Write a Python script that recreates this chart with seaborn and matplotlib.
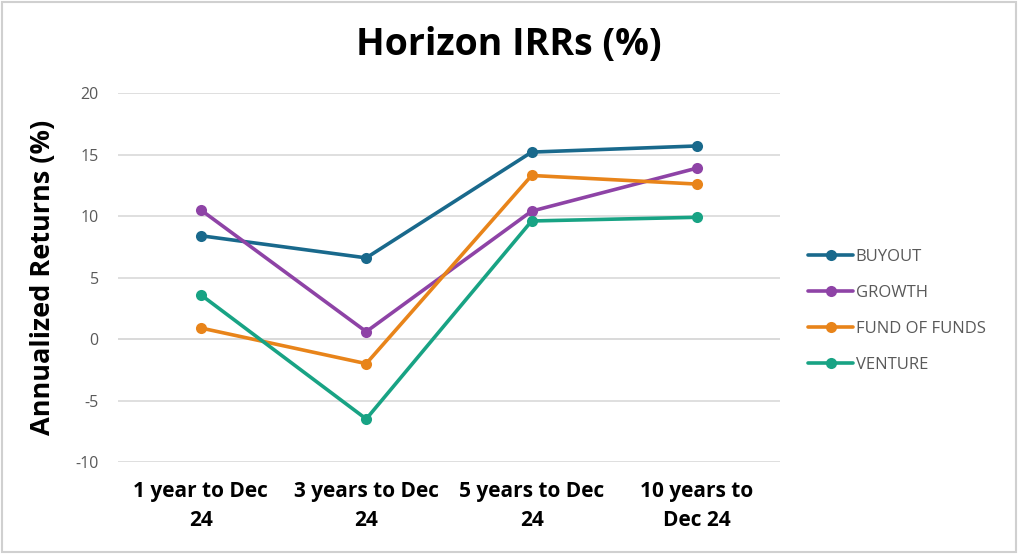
import pandas as pd
import seaborn as sns
import matplotlib.pyplot as plt
from matplotlib.patches import Rectangle

periods = ['1 year to Dec\n24', '3 years to Dec\n24', '5 years to Dec\n24', '10 years to\nDec 24']
buyout = [8.4, 6.6, 15.2, 15.7]
growth = [10.5, 0.6, 10.4, 13.9]
fund_of_funds = [0.9, -2.0, 13.3, 12.6]
venture = [3.6, -6.5, 9.6, 9.9]

series = ['BUYOUT', 'GROWTH', 'FUND OF FUNDS', 'VENTURE']
colors = ['#19698C', '#8E43A6', '#E8841A', '#18A384']

rows = []
for name, vals in zip(series, [buyout, growth, fund_of_funds, venture]):
    for i, v in enumerate(vals):
        rows.append({'pos': i, 'period': periods[i], 'value': v, 'series': name})
df = pd.DataFrame(rows)

sns.set_theme(style='white')
plt.rcParams['font.family'] = ['Open Sans', 'DejaVu Sans']
plt.rcParams['axes.unicode_minus'] = False

fig = plt.figure(figsize=(10.18, 5.54), dpi=100)
ax = fig.add_axes([0.116, 0.166, 0.650, 0.666])

sns.lineplot(data=df, x='pos', y='value', hue='series', hue_order=series,
             palette=colors, marker='o', markersize=8, markeredgewidth=0,
             linewidth=2.6, ax=ax, zorder=3)

ax.set_xlim(-0.5, 3.5)
ax.set_ylim(-10, 20)
ax.set_yticks(range(-10, 21, 5))
ax.set_xticks(range(4))
ax.set_xticklabels(periods, fontweight='bold', fontsize=15, color='#000000',
                   linespacing=1.45)
ax.tick_params(axis='y', labelsize=11.5, labelcolor='#595959', length=0, pad=14)
ax.tick_params(axis='x', length=0, pad=14)
ax.grid(axis='y', color='#D9D9D9', linewidth=1.2)
ax.axhline(0, color='#D9D9D9', linewidth=1.2, zorder=1)
for s in ax.spines.values():
    s.set_visible(False)
ax.set_xlabel('')
ax.set_ylabel('Annualized Returns (%)', fontsize=19.5, fontweight='bold',
              labelpad=14, color='#000000')

ax.legend(loc='center left', bbox_to_anchor=(1.02, 0.41), frameon=False,
          fontsize=12, labelcolor='#595959', handlelength=2.7,
          labelspacing=1.2, handletextpad=0.15)

fig.text(0.5, 0.918, 'Horizon IRRs (%)', ha='center', va='center',
         fontsize=27, fontweight='bold', color='#000000')

fig.patches.append(Rectangle((0.002, 0.003), 0.996, 0.994, transform=fig.transFigure,
                             fill=False, edgecolor='#D0D0D0', linewidth=1.5))

fig.savefig('out.png', dpi=100)
